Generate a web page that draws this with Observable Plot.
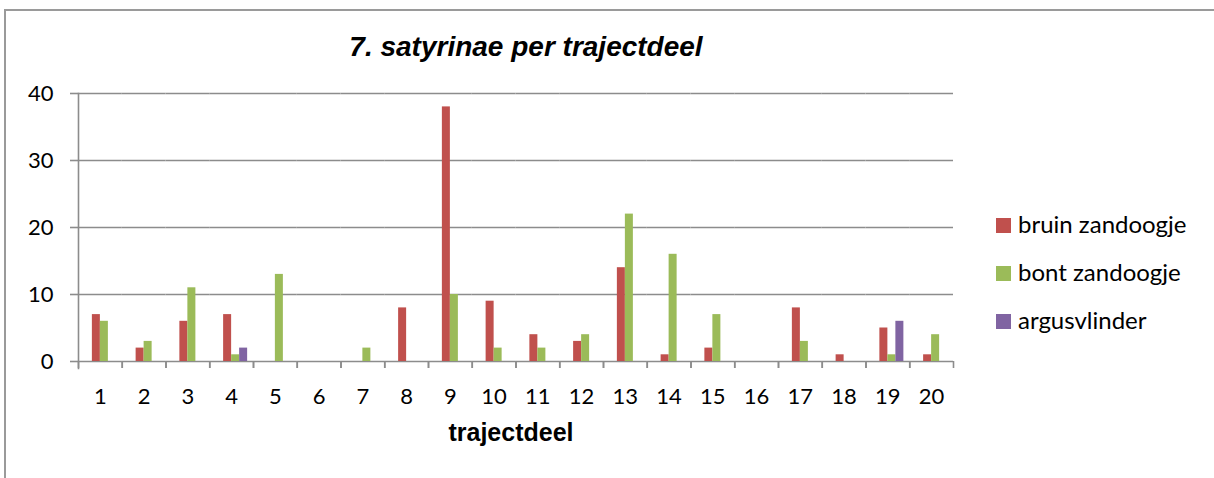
<!DOCTYPE html>
<html>
<head>
<meta charset="utf-8">
<script src="https://cdn.jsdelivr.net/npm/d3@7"></script>
<script src="https://cdn.jsdelivr.net/npm/@observablehq/plot@0.6"></script>
<style>
  html, body { margin: 0; padding: 0; background: #fff; }
  #wrap { position: relative; width: 1214px; height: 478px; overflow: hidden; background: #fff; }
  #border { position: absolute; left: 4px; top: 9px; width: 1400px; height: 700px;
            border-top: 2px solid #9a9a9a; border-left: 2px solid #9a9a9a; }
  #chart { position: absolute; left: 0; top: 0; }
  #title { position: absolute; left: 0; top: 33px; width: 1052px; text-align: center;
           font: italic bold 28px/28px "Liberation Sans", Arial, sans-serif; color: #000; }
  #xlabel { position: absolute; left: 0; top: 420px; width: 1022px; text-align: center;
            font: bold 25px/25px "Liberation Sans", Arial, sans-serif; color: #000; }
  #legend { position: absolute; left: 996px; top: 200px; font: 24px/48px Lato, sans-serif; color: #000; }
  #legend .item { white-space: nowrap; }
  #legend .sw { display: inline-block; width: 15px; height: 15px; vertical-align: baseline; margin-right: 7px; }
</style>
</head>
<body>
<div id="wrap">
  <div id="border"></div>
  <div id="chart"></div>
  <div id="title">7. satyrinae per trajectdeel</div>
  <div id="xlabel">trajectdeel</div>
  <div id="legend"></div>
</div>
<script>
const categories = ["1","2","3","4","5","6","7","8","9","10","11","12","13","14","15","16","17","18","19","20"];
const seriesNames = ["bruin zandoogje", "bont zandoogje", "argusvlinder"];
const seriesColors = ["#C0504D", "#9BBB59", "#8064A2"];
const bruinZandoogje = [7, 2, 6, 7, 0, 0, 0, 8, 38, 9, 4, 3, 14, 1, 2, 0, 8, 1, 5, 1];
const bontZandoogje  = [6, 3, 11, 1, 13, 0, 2, 0, 10, 2, 2, 4, 22, 16, 7, 0, 3, 0, 1, 4];
const argusvlinder   = [0, 0, 0, 2, 0, 0, 0, 0, 0, 0, 0, 0, 0, 0, 0, 0, 0, 0, 6, 0];
const yTicks = [0, 10, 20, 30, 40];

const seriesValues = [bruinZandoogje, bontZandoogje, argusvlinder];
const rows = categories.flatMap((c, i) =>
  seriesNames.map((s, j) => ({cat: c, series: s, value: seriesValues[j][i]})));

const gray = "#8c8c8c";
const W = 1214, H = 478, mL = 78, mR = 261, mT = 93, mB = 117;
const half = (W - mL - mR) / categories.length / 2;

const chart = Plot.plot({
  width: W, height: H,
  marginTop: mT, marginBottom: mB, marginLeft: mL, marginRight: mR,
  style: {fontFamily: "Lato, sans-serif", fontSize: "22px", color: "#000", background: "transparent", overflow: "visible"},
  fx: {domain: categories, padding: 0, round: false, label: null, axis: null},
  x: {domain: seriesNames, paddingInner: 0, paddingOuter: 1.234, align: 0.7025, round: false, axis: null},
  y: {domain: [0, 40], label: null, axis: null},
  color: {domain: seriesNames, range: seriesColors},
  marks: [
    Plot.gridY(yTicks, {stroke: gray, strokeOpacity: 1, strokeWidth: 1.6}),
    Plot.axisY(yTicks, {tickSize: 8, tickPadding: 17, label: null, stroke: gray, strokeWidth: 1.6, fontSize: 22}),
    Plot.axisFx({anchor: "bottom", tickSize: 7, dx: -half, text: null, stroke: gray, strokeWidth: 1.6, label: null}),
    Plot.axisFx({anchor: "bottom", tickSize: 7, dx: half, text: null, stroke: gray, strokeWidth: 1.6, label: null}),
    Plot.axisFx({anchor: "bottom", tickSize: 0, tickPadding: 27, label: null, fontSize: 22}),
    Plot.frame({anchor: "left", facetAnchor: "left", stroke: gray, strokeWidth: 1.6, insetBottom: -7}),
    Plot.barY(rows, {fx: "cat", x: "series", y: "value", fill: "series"})
  ]
});
document.getElementById("chart").appendChild(chart);

const legend = document.getElementById("legend");
seriesNames.forEach((s, i) => {
  const item = document.createElement("div");
  item.className = "item";
  const sw = document.createElement("span");
  sw.className = "sw";
  sw.style.background = seriesColors[i];
  item.appendChild(sw);
  item.appendChild(document.createTextNode(s));
  legend.appendChild(item);
});
</script>
</body>
</html>
